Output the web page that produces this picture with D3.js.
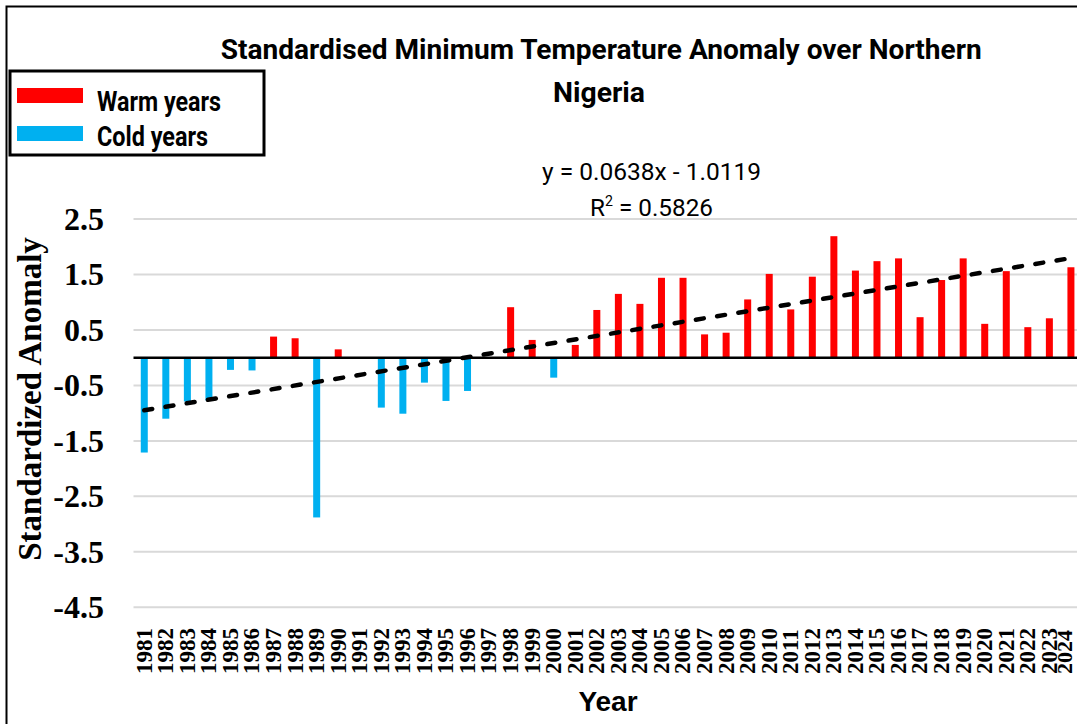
<!DOCTYPE html>
<html>
<head>
<meta charset="utf-8">
<script src="https://cdn.jsdelivr.net/npm/d3@7"></script>
<style>
  html, body { margin: 0; padding: 0; background: #fff; }
  svg { display: block; }
</style>
</head>
<body>
<svg id="chart" width="1077" height="724"></svg>
<script>
// Years on the category axis
const years = d3.range(1981, 2025).map(String);

// Standardised minimum temperature anomaly per year
const anomalies = [
  -1.71, -1.10, -0.79, -0.77, -0.22, -0.23, 0.38, 0.35, -2.88, 0.15,
   0.00, -0.90, -1.01, -0.45, -0.78, -0.60, 0.00, 0.91, 0.32, -0.36,
   0.23, 0.86, 1.15, 0.97, 1.44, 1.44, 0.42, 0.45, 1.05, 1.51,
   0.87, 1.46, 2.19, 1.57, 1.74, 1.79, 0.73, 1.40, 1.79, 0.61,
   1.56, 0.55, 0.71, 1.63
];

// Linear trend (x = 1 for the first year)
const trendSlope = 0.0638;
const trendIntercept = -1.0119;
const rSquared = 0.5826;

// Y-axis tick values
const yTicks = [2.5, 1.5, 0.5, -0.5, -1.5, -2.5, -3.5, -4.5];

// Legend entries
const legendLabels = ["Warm years", "Cold years"];

const warmColor = "#ff0000";
const coldColor = "#00b0f0";

const svg = d3.select("#chart");
const W = 1077, H = 724;

svg.append("rect").attr("width", W).attr("height", H).attr("fill", "#fff");

// Outer frame
svg.append("rect")
  .attr("x", 6.5).attr("y", 6.5)
  .attr("width", 1200).attr("height", 900)
  .attr("fill", "none").attr("stroke", "#000").attr("stroke-width", 2);

const plotLeft = 133.5, plotRight = 1081.7;

const x = d3.scaleBand().domain(years).range([plotLeft, plotRight]).padding(0);
const y = d3.scaleLinear().domain([-4.5, 2.5]).range([607.3, 219]);

// Gridlines
svg.append("g")
  .selectAll("line")
  .data(yTicks)
  .join("line")
  .attr("x1", plotLeft).attr("x2", W)
  .attr("y1", d => y(d)).attr("y2", d => y(d))
  .attr("stroke", "#d9d9d9").attr("stroke-width", 2);

// Y axis labels
const yAxis = svg.append("g")
  .attr("transform", `translate(104,0)`)
  .call(d3.axisLeft(y).tickValues(yTicks).tickSize(0).tickPadding(0)
    .tickFormat(d => d.toFixed(1)));
yAxis.select(".domain").remove();
yAxis.selectAll("text")
  .attr("font-family", "'Liberation Serif', 'Times New Roman', serif")
  .attr("font-weight", "bold")
  .attr("font-size", 32)
  .attr("fill", "#000");

// Bars
const barW = 7;
svg.append("g")
  .selectAll("rect")
  .data(years.map((yr, i) => ({ yr, v: anomalies[i] })))
  .join("rect")
  .attr("x", d => x(d.yr) + x.bandwidth() / 2 - barW / 2)
  .attr("width", barW)
  .attr("y", d => y(Math.max(0, d.v)))
  .attr("height", d => Math.abs(y(d.v) - y(0)))
  .attr("fill", d => d.v >= 0 ? warmColor : coldColor);

// Zero line
svg.append("line")
  .attr("x1", plotLeft).attr("x2", W)
  .attr("y1", y(0)).attr("y2", y(0))
  .attr("stroke", "#000").attr("stroke-width", 2.5);

// Trend line
const trendPts = [1, years.length].map(i => ({
  px: x(years[i - 1]) + x.bandwidth() / 2,
  v: trendSlope * i + trendIntercept
}));
svg.append("path")
  .datum(trendPts)
  .attr("d", d3.line().x(d => d.px).y(d => y(d.v)))
  .attr("fill", "none")
  .attr("stroke", "#000")
  .attr("stroke-width", 4.5)
  .attr("stroke-linecap", "round")
  .attr("stroke-dasharray", "8,13.5");

// X axis labels (rotated years)
const xAxis = svg.append("g")
  .attr("transform", `translate(0,674)`)
  .call(d3.axisBottom(x).tickSize(0).tickPadding(0));
xAxis.select(".domain").remove();
xAxis.selectAll("text")
  .attr("y", 0)
  .attr("x", 0)
  .attr("dy", "0.32em")
  .attr("transform", "rotate(-90)")
  .style("text-anchor", "start")
  .attr("font-family", "'Liberation Serif', 'Times New Roman', serif")
  .attr("font-weight", "bold")
  .attr("font-size", 23)
  .attr("fill", "#000");

// The last year label sits at the right edge: nudge and shrink it to stay inside
const lastTick = xAxis.selectAll(".tick").filter(d => d === years[years.length - 1]);
lastTick.attr("transform", d => `translate(${Math.min(x(d) + x.bandwidth() / 2, W - 12)},0)`);
lastTick.select("text").attr("font-size", 22);

// Axis titles
svg.append("text")
  .attr("transform", "translate(41,399) rotate(-90)")
  .attr("text-anchor", "middle")
  .attr("font-family", "'Liberation Serif', 'Times New Roman', serif")
  .attr("font-weight", "bold")
  .attr("font-size", 33)
  .text("Standardized Anomaly");

svg.append("text")
  .attr("x", 608).attr("y", 711)
  .attr("text-anchor", "middle")
  .attr("font-family", "'Liberation Sans', Arial, sans-serif")
  .attr("font-weight", "bold")
  .attr("font-size", 28)
  .text("Year");

// Title
const titleFont = "Roboto, 'Noto Sans', sans-serif";
svg.append("text")
  .attr("x", 220.7).attr("y", 59)
  .attr("font-family", titleFont)
  .attr("font-weight", "bold")
  .attr("font-size", 28)
  .attr("textLength", 761)
  .attr("lengthAdjust", "spacingAndGlyphs")
  .text("Standardised Minimum Temperature Anomaly over Northern");
svg.append("text")
  .attr("x", 553).attr("y", 102)
  .attr("font-family", titleFont)
  .attr("font-weight", "bold")
  .attr("font-size", 28)
  .attr("textLength", 92)
  .attr("lengthAdjust", "spacingAndGlyphs")
  .text("Nigeria");

// Trend equation
svg.append("text")
  .attr("x", 542).attr("y", 180)
  .attr("font-family", titleFont)
  .attr("font-size", 24)
  .attr("textLength", 219)
  .attr("lengthAdjust", "spacingAndGlyphs")
  .text(`y = ${trendSlope.toFixed(4)}x - ${Math.abs(trendIntercept).toFixed(4)}`);
const r2 = svg.append("text")
  .attr("x", 590).attr("y", 216)
  .attr("font-family", titleFont)
  .attr("font-size", 24)
  .attr("textLength", 123)
  .attr("lengthAdjust", "spacingAndGlyphs");
r2.append("tspan").text("R");
r2.append("tspan").attr("dy", -10).attr("font-size", 14).text("2");
r2.append("tspan").attr("dy", 10).text(` = ${rSquared.toFixed(4)}`);

// Legend
const legend = svg.append("g");
legend.append("rect")
  .attr("x", 10).attr("y", 71)
  .attr("width", 254).attr("height", 84)
  .attr("fill", "#fff").attr("stroke", "#000").attr("stroke-width", 3);
const legendColors = [warmColor, coldColor];
const legendLens = [124, 111];
legendLabels.forEach((lab, i) => {
  legend.append("rect")
    .attr("x", 17).attr("y", 88 + i * 38)
    .attr("width", 66).attr("height", 15)
    .attr("fill", legendColors[i]);
  legend.append("text")
    .attr("x", 97).attr("y", 111 + i * 35)
    .attr("font-family", titleFont)
    .attr("font-weight", "bold")
    .attr("font-size", 28)
    .attr("textLength", legendLens[i])
    .attr("lengthAdjust", "spacingAndGlyphs")
    .text(lab);
});
</script>
</body>
</html>
